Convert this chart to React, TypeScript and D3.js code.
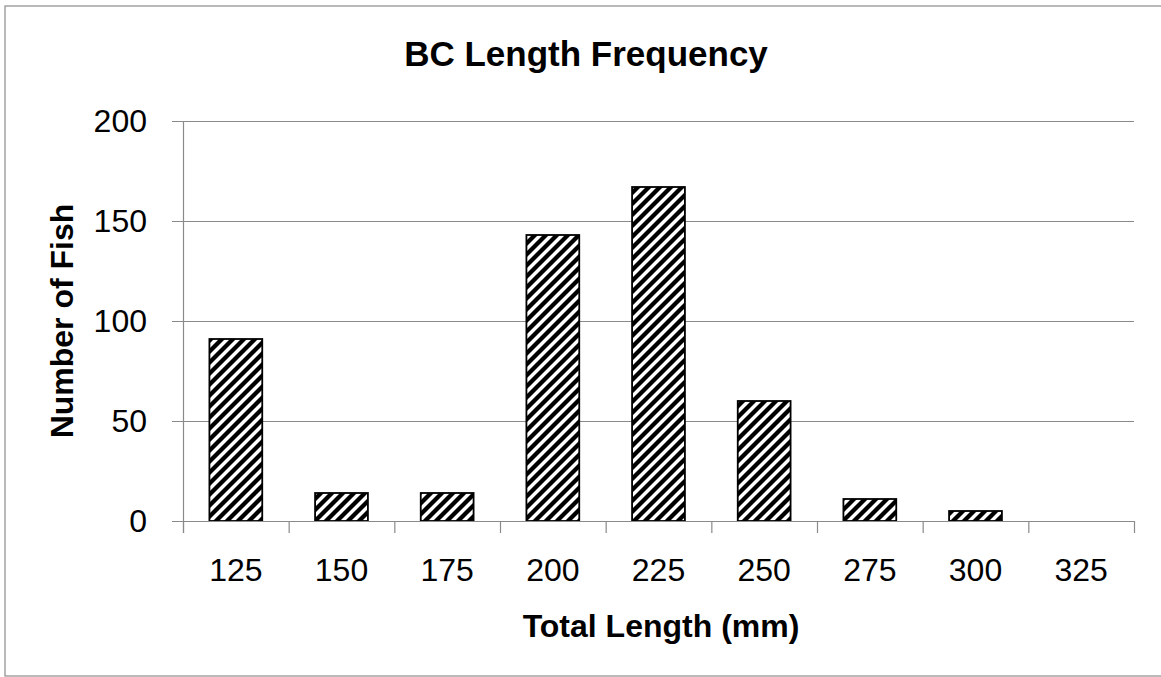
import * as d3 from "d3";
import React, { RefObject, useEffect, useRef } from "react";

// chart data
const lengthBins: string[] = ["125", "150", "175", "200", "225", "250", "275", "300", "325"];
const fishCounts: number[] = [91, 14, 14, 143, 167, 60, 11, 5, 0];
const yTickValues: number[] = [0, 50, 100, 150, 200];

const chartTitle = "BC Length Frequency";
const xTitle = "Total Length (mm)";
const yTitle = "Number of Fish";

const width = 1161;
const height = 677;
const FONT = "'Liberation Sans', Arial, sans-serif";
const GRID = "#8a8a8a";

const App = () => {
  const d3Ref: RefObject<HTMLDivElement> = useRef(null);

  const drawChart = () => {
    d3.select(d3Ref.current).selectAll("*").remove();
    const svg = d3
      .select(d3Ref.current)
      .append("svg")
      .attr("width", width)
      .attr("height", height)
      .style("position", "absolute")
      .style("left", "0px")
      .style("top", "0px")
      .style("background", "#fff");

    const left = 183;
    const right = 1134;
    const top = 121;
    const bottom = 521;

    // hatch pattern (wide upward diagonal)
    const p = 11;
    const pattern = svg
      .append("defs")
      .append("pattern")
      .attr("id", "hatch")
      .attr("patternUnits", "userSpaceOnUse")
      .attr("width", p)
      .attr("height", p);
    pattern.append("rect").attr("width", p).attr("height", p).attr("fill", "#fff");
    pattern
      .append("path")
      .attr(
        "d",
        `M0,${p} L${p},0 M${-p / 2},${p / 2} L${p / 2},${-p / 2} M${p / 2},${p * 1.5} L${p * 1.5},${p / 2}`
      )
      .attr("stroke", "#000")
      .attr("stroke-width", 4.3);

    // outer border
    svg
      .append("rect")
      .attr("x", 5)
      .attr("y", 6)
      .attr("width", 1170)
      .attr("height", 670)
      .attr("fill", "none")
      .attr("stroke", "#8c8c8c")
      .attr("stroke-width", 1.2);

    const xScale = d3
      .scaleBand()
      .domain(lengthBins)
      .range([left, right])
      .paddingInner(0.5)
      .paddingOuter(0.25);
    const yScale = d3.scaleLinear().domain([0, 200]).range([bottom, top]);

    // gridlines + y ticks
    svg
      .append("g")
      .selectAll("line")
      .data(yTickValues)
      .enter()
      .append("line")
      .attr("x1", left - 11)
      .attr("x2", right)
      .attr("y1", (d) => Math.round(yScale(d)) + 0.5)
      .attr("y2", (d) => Math.round(yScale(d)) + 0.5)
      .attr("stroke", GRID)
      .attr("stroke-width", 1.2);

    svg
      .append("g")
      .selectAll("text")
      .data(yTickValues)
      .enter()
      .append("text")
      .attr("x", 147)
      .attr("y", (d) => yScale(d))
      .attr("dy", "0.33em")
      .attr("text-anchor", "end")
      .style("font-family", FONT)
      .style("font-size", "32px")
      .attr("fill", "#000")
      .text((d) => d);

    // y axis line
    svg
      .append("line")
      .attr("x1", left + 0.5)
      .attr("x2", left + 0.5)
      .attr("y1", top)
      .attr("y2", bottom + 12)
      .attr("stroke", GRID)
      .attr("stroke-width", 1.2);

    // bars
    const barData = lengthBins.map((bin, i) => ({ bin, count: fishCounts[i] }));
    svg
      .append("g")
      .selectAll("rect")
      .data(barData.filter((d) => d.count > 0))
      .enter()
      .append("rect")
      .attr("x", (d) => xScale(d.bin) as number)
      .attr("y", (d) => yScale(d.count))
      .attr("width", xScale.bandwidth())
      .attr("height", (d) => bottom - yScale(d.count))
      .attr("fill", "url(#hatch)")
      .attr("stroke", "#000")
      .attr("stroke-width", 1.8);

    // x axis line + category ticks
    svg
      .append("line")
      .attr("x1", left - 11)
      .attr("x2", right)
      .attr("y1", bottom + 0.5)
      .attr("y2", bottom + 0.5)
      .attr("stroke", GRID)
      .attr("stroke-width", 1.2);

    const boundaries = d3.range(lengthBins.length + 1).map((i) => left + i * xScale.step());
    svg
      .append("g")
      .selectAll("line")
      .data(boundaries)
      .enter()
      .append("line")
      .attr("x1", (d) => d + 0.5)
      .attr("x2", (d) => d + 0.5)
      .attr("y1", bottom)
      .attr("y2", bottom + 12)
      .attr("stroke", GRID)
      .attr("stroke-width", 1.2);

    svg
      .append("g")
      .selectAll("text")
      .data(lengthBins)
      .enter()
      .append("text")
      .attr("x", (d) => (xScale(d) as number) + xScale.bandwidth() / 2)
      .attr("y", 581)
      .attr("text-anchor", "middle")
      .style("font-family", FONT)
      .style("font-size", "32px")
      .attr("fill", "#000")
      .text((d) => d);

    // titles
    svg
      .append("text")
      .attr("x", 586)
      .attr("y", 66)
      .attr("text-anchor", "middle")
      .style("font-family", FONT)
      .style("font-size", "35px")
      .style("font-weight", "bold")
      .text(chartTitle);

    svg
      .append("text")
      .attr("x", 661)
      .attr("y", 637)
      .attr("text-anchor", "middle")
      .style("font-family", FONT)
      .style("font-size", "32px")
      .style("font-weight", "bold")
      .text(xTitle);

    svg
      .append("text")
      .attr("transform", `translate(73, ${(top + bottom) / 2}) rotate(-90)`)
      .attr("text-anchor", "middle")
      .style("font-family", FONT)
      .style("font-size", "32px")
      .style("font-weight", "bold")
      .text(yTitle);
  };

  useEffect(() => {
    drawChart();
  }, [d3Ref]);

  return <div ref={d3Ref} />;
};

export default App;
